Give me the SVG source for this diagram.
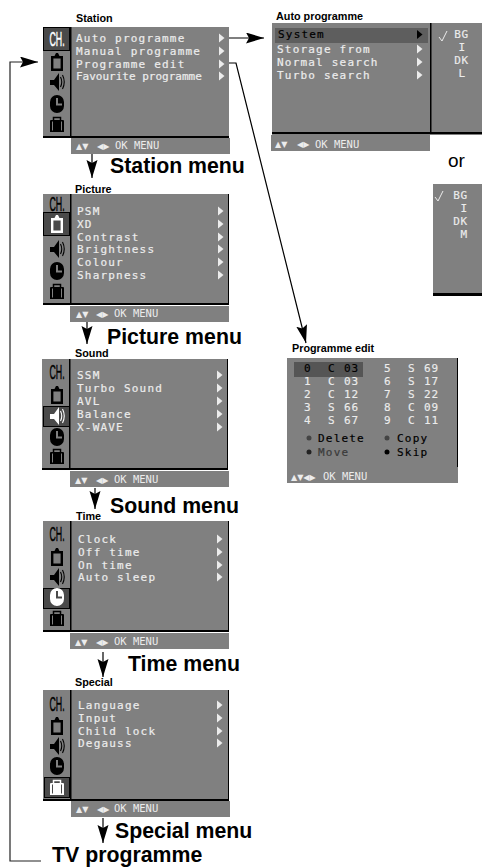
<svg xmlns="http://www.w3.org/2000/svg" width="482" height="867" viewBox="0 0 482 867">
<style>
.bg{fill:#808080}
.k{fill:#000}
.cell{fill:#4a4a4a;stroke:#000;stroke-width:1}
.m{font:11px "DejaVu Sans Mono","Liberation Mono",monospace;letter-spacing:1.2px;fill:#ececec;stroke:#ececec;stroke-width:.2}
.m.d{fill:#000;stroke:#000}
.m.g{fill:#3a3a3a;stroke:#3a3a3a}
.d{fill:#000}
.h{font:bold 10.8px "Liberation Sans",Arial,sans-serif;fill:#000}
.b{font:bold 21.3px "Liberation Sans",Arial,sans-serif;fill:#000}
.f{font:10.5px "DejaVu Sans Mono","Liberation Mono",monospace;fill:#ececec}
.t{font:8px "DejaVu Sans",sans-serif;fill:#ececec}
.c{font:21px "Liberation Sans",Arial,sans-serif;stroke:currentColor;stroke-width:.5;fill:currentColor;text-anchor:middle}
.n{font:11px "DejaVu Sans Mono","Liberation Mono",monospace;letter-spacing:.8px;fill:#ececec;stroke:#ececec;stroke-width:.15}
.n.d{fill:#000;stroke:#000}
.line{fill:none;stroke:#000;stroke-width:1.2}
.sel{color:#fff}
.uns{color:#000}
</style>
<defs>
<marker id="head" markerUnits="userSpaceOnUse" markerWidth="19" markerHeight="12" refX="18" refY="5.5" orient="auto"><path d="M0,0L18,5.5L0,11L3,5.5Z" fill="#000"/></marker>
<path id="tri" d="M0,-4.5L5.5,0L0,4.5Z" fill="#ececec"/>
<g id="panel">
<rect class="bg" width="186" height="109"/>
<rect class="k" y="109" width="186" height="2"/>
<rect class="k" x="27" width="1.5" height="109"/>
</g>
<rect id="foot" class="bg" width="159" height="16"/>
<path id="i-tv" fill="currentColor" fill-rule="evenodd" d="M-6,-6H6V9H-6Z M-3.6,-3.6H3.6V6.6H-3.6Z M-2.5,-6L-1,-9H1L2.5,-6Z"/>
<g id="i-sp" fill="currentColor"><path d="M-7,-2H-3L2,-9V9L-3,3H-7Z"/><path d="M3.5,-5Q6,0 3.5,5M5.5,-7Q9,0 5.5,7" fill="none" stroke="currentColor" stroke-width="1.1"/></g>
<path id="i-cl" fill="currentColor" fill-rule="evenodd" d="M-7,-2A7,7 0 0 1 7,-2V2A7,7 0 0 1 -7,2Z M-1,-6H1V-0.5H5V1.5H-1Z"/>
<g id="i-ca" fill="currentColor"><path fill-rule="evenodd" d="M-7,-3Q-7,-4 -6,-4H6Q7,-4 7,-3V8H-7Z M-5,-2.5H-4V6.5H-5Z M4,-2.5H5V6.5H4Z"/><path d="M-3.5,-4V-6.5H3.5V-4" fill="none" stroke="currentColor" stroke-width="1.5"/></g>
</defs>

<g id="connectors">
<path class="line" d="M224,38H264" marker-end="url(#head)"/>
<path class="line" d="M224,63H236L306,343" marker-end="url(#head)"/>
<path class="line" d="M92,153V178" marker-end="url(#head)"/>
<path class="line" d="M87,322V344" marker-end="url(#head)"/>
<path class="line" d="M95,488V509" marker-end="url(#head)"/>
<path class="line" d="M103,652V677" marker-end="url(#head)"/>
<path class="line" d="M103,818V843" marker-end="url(#head)"/>
<path class="line" d="M41,861H10V62H38" marker-end="url(#head)" style="stroke:#222"/>
</g>

<g id="station" transform="translate(43,27)">
<use href="#panel"/>
<rect class="cell" x="0.5" y="0.5" width="26" height="23"/>
<text class="c sel" transform="translate(14,19) scale(.42,1)">CH.</text>
<use class="uns" href="#i-tv" x="14" y="35"/><use class="uns" href="#i-sp" x="14" y="55"/><use class="uns" href="#i-cl" x="14" y="77"/><use class="uns" href="#i-ca" x="14" y="97"/>
<text class="m" x="33" y="15">Auto programme</text>
<text class="m" x="33" y="28">Manual programme</text>
<text class="m" x="33" y="41">Programme edit</text>
<text class="m" x="33" y="53" textLength="127">Favourite programme</text>
<use href="#tri" x="176" y="11"/><use href="#tri" x="176" y="24"/><use href="#tri" x="176" y="37"/><use href="#tri" x="176" y="49"/>
<use href="#foot" x="28" y="111"/>
<text class="t" x="33" y="122">▲▼<tspan x="54">◀▶</tspan></text><text class="f" x="72" y="122">OK MENU</text>
<text class="h" x="33" y="-5">Station</text>
</g>
<text class="b" x="110" y="173" id="label-station">Station menu</text>

<g id="picture" transform="translate(43,194)">
<use href="#panel"/><rect class="k" x="185" width="1" height="109"/>
<rect class="cell" x="0.5" y="18.5" width="26" height="23"/>
<text class="c uns" transform="translate(14,17) scale(.42,1)">CH.</text>
<use class="sel" href="#i-tv" x="14" y="30"/><use class="uns" href="#i-sp" x="14" y="55"/><use class="uns" href="#i-cl" x="14" y="77"/><use class="uns" href="#i-ca" x="14" y="97"/>
<text class="m" x="34" y="21">PSM</text>
<text class="m" x="34" y="34">XD</text>
<text class="m" x="34" y="47">Contrast</text>
<text class="m" x="34" y="59">Brightness</text>
<text class="m" x="34" y="72">Colour</text>
<text class="m" x="34" y="85">Sharpness</text>
<use href="#tri" x="175" y="17"/><use href="#tri" x="175" y="30"/><use href="#tri" x="175" y="43"/><use href="#tri" x="175" y="55"/><use href="#tri" x="175" y="68"/><use href="#tri" x="175" y="81"/>
<use href="#foot" x="27" y="112"/>
<text class="t" x="33" y="123">▲▼<tspan x="53">◀▶</tspan></text><text class="f" x="71" y="123">OK MENU</text>
<text class="h" x="32" y="-1">Picture</text>
</g>
<text class="b" x="107" y="344" id="label-picture">Picture menu</text>

<g id="sound" transform="translate(42,359)">
<use href="#panel"/><rect class="k" x="185" width="1" height="109"/>
<rect class="cell" x="1.5" y="47.5" width="26" height="20"/>
<text class="c uns" transform="translate(15,20) scale(.42,1)">CH.</text>
<use class="uns" href="#i-tv" x="15" y="36"/><use class="sel" href="#i-sp" x="15" y="57"/><use class="uns" href="#i-cl" x="15" y="78"/><use class="uns" href="#i-ca" x="15" y="97"/>
<text class="m" x="35" y="20">SSM</text>
<text class="m" x="35" y="33">Turbo Sound</text>
<text class="m" x="35" y="46">AVL</text>
<text class="m" x="35" y="59">Balance</text>
<text class="m" x="35" y="72">X-WAVE</text>
<use href="#tri" x="175" y="16"/><use href="#tri" x="175" y="29"/><use href="#tri" x="175" y="42"/><use href="#tri" x="175" y="55"/><use href="#tri" x="175" y="68"/>
<use href="#foot" x="28" y="112"/>
<text class="t" x="33" y="124">▲▼<tspan x="54">◀▶</tspan></text><text class="f" x="72" y="124">OK MENU</text>
<text class="h" x="33" y="-2">Sound</text>
</g>
<text class="b" x="110" y="513" id="label-sound">Sound menu</text>

<g id="time" transform="translate(43,521)">
<use href="#panel"/><rect class="k" x="185" width="1" height="109"/>
<rect class="cell" x="0.5" y="67.5" width="26" height="20"/>
<text class="c uns" transform="translate(14,20) scale(.42,1)">CH.</text>
<use class="uns" href="#i-tv" x="14" y="36"/><use class="uns" href="#i-sp" x="14" y="56"/><use class="sel" href="#i-cl" x="14" y="76"/><use class="uns" href="#i-ca" x="14" y="97"/>
<text class="m" x="35" y="22">Clock</text>
<text class="m" x="35" y="35">Off time</text>
<text class="m" x="35" y="48">On time</text>
<text class="m" x="35" y="60">Auto sleep</text>
<use href="#tri" x="174" y="18"/><use href="#tri" x="174" y="31"/><use href="#tri" x="174" y="44"/><use href="#tri" x="174" y="56"/>
<use href="#foot" x="27" y="112"/>
<text class="t" x="32" y="124">▲▼<tspan x="53">◀▶</tspan></text><text class="f" x="71" y="124">OK MENU</text>
<text class="h" x="33" y="-1">Time</text>
</g>
<text class="b" x="128" y="671" id="label-time">Time menu</text>

<g id="special" transform="translate(43,690)">
<use href="#panel"/><rect class="k" x="185" width="1" height="109"/>
<rect class="cell" x="1.5" y="87.5" width="25" height="20"/>
<text class="c uns" transform="translate(14,21) scale(.42,1)">CH.</text>
<use class="uns" href="#i-tv" x="14" y="36"/><use class="uns" href="#i-sp" x="14" y="56"/><use class="uns" href="#i-cl" x="14" y="76"/><use class="sel" href="#i-ca" x="14" y="97"/>
<text class="m" x="35" y="19">Language</text>
<text class="m" x="35" y="32">Input</text>
<text class="m" x="35" y="45">Child lock</text>
<text class="m" x="35" y="57">Degauss</text>
<use href="#tri" x="174" y="15"/><use href="#tri" x="174" y="28"/><use href="#tri" x="174" y="41"/><use href="#tri" x="174" y="53"/>
<use href="#foot" x="28" y="111"/>
<text class="t" x="33" y="122">▲▼<tspan x="54">◀▶</tspan></text><text class="f" x="71" y="122">OK MENU</text>
<text class="h" x="32" y="-4">Special</text>
</g>
<text class="b" x="115" y="838" id="label-special">Special menu</text>

<text class="b" x="52" y="862" id="tv-programme">TV programme</text>

<g id="auto-programme">
<text class="h" x="276" y="20">Auto programme</text>
<rect class="bg" x="272" y="23" width="210" height="109"/>
<rect class="k" x="272" y="132" width="210" height="2.5"/>
<rect class="k" x="430" y="23" width="1.5" height="110"/>
<rect x="275" y="28" width="153" height="15" fill="#5e5e5e"/>
<text class="m d" x="278" y="38">System</text>
<text class="m" x="277" y="53">Storage from</text>
<text class="m" x="277" y="66">Normal search</text>
<text class="m" x="277" y="79">Turbo search</text>
<path class="k" d="M417,30L422.5,34.5L417,39Z"/>
<use href="#tri" x="417" y="49"/><use href="#tri" x="417" y="62"/><use href="#tri" x="417" y="75"/>
<path d="M439,37L442,41L447,31" fill="none" stroke="#ececec"/>
<text class="n" x="469" y="38" text-anchor="end">BG</text>
<text class="n" x="466" y="51" text-anchor="end">I</text>
<text class="n" x="469" y="64" text-anchor="end">DK</text>
<text class="n" x="466" y="77" text-anchor="end">L</text>
<rect class="bg" x="271" y="135" width="159" height="16"/>
<text class="t" x="275" y="147">▲▼<tspan x="297">◀▶</tspan></text><text class="f" x="315" y="148">OK MENU</text>
</g>

<text id="or" x="448" y="167" style="font:19px 'Liberation Sans',Arial,sans-serif">or</text>

<g id="system-alt">
<rect class="bg" x="433" y="184" width="49" height="109"/>
<rect class="k" x="433" y="293" width="49" height="3"/>
<path d="M435,197L438,201L443,191" fill="none" stroke="#ececec"/>
<text class="n" x="468" y="199" text-anchor="end">BG</text>
<text class="n" x="468" y="212" text-anchor="end">I</text>
<text class="n" x="468" y="225" text-anchor="end">DK</text>
<text class="n" x="468" y="238" text-anchor="end">M</text>
</g>

<g id="programme-edit">
<text class="h" x="292" y="352">Programme edit</text>
<rect class="bg" x="287" y="358" width="171" height="125"/>
<rect class="k" x="457" y="358" width="1" height="109"/>
<rect x="294" y="362" width="69" height="15" fill="#555"/>
<text class="n d" x="304" y="372">0</text><text class="n d" x="328" y="372">C</text><text class="n d" x="344" y="372">03</text>
<text class="n" x="304" y="385">1</text><text class="n" x="328" y="385">C</text><text class="n" x="344" y="385">03</text>
<text class="n" x="304" y="398">2</text><text class="n" x="328" y="398">C</text><text class="n" x="344" y="398">12</text>
<text class="n" x="304" y="411">3</text><text class="n" x="328" y="411">S</text><text class="n" x="344" y="411">66</text>
<text class="n" x="304" y="424">4</text><text class="n" x="328" y="424">S</text><text class="n" x="344" y="424">67</text>
<text class="n" x="384" y="372">5</text><text class="n" x="408" y="372">S</text><text class="n" x="424" y="372">69</text>
<text class="n" x="384" y="385">6</text><text class="n" x="408" y="385">S</text><text class="n" x="424" y="385">17</text>
<text class="n" x="384" y="398">7</text><text class="n" x="408" y="398">S</text><text class="n" x="424" y="398">22</text>
<text class="n" x="384" y="411">8</text><text class="n" x="408" y="411">C</text><text class="n" x="424" y="411">09</text>
<text class="n" x="384" y="424">9</text><text class="n" x="408" y="424">C</text><text class="n" x="424" y="424">11</text>
<circle cx="309" cy="438" r="2.5" fill="#444"/><text class="m d" x="318" y="442">Delete</text>
<circle cx="387" cy="438" r="2.5" fill="#444"/><text class="m d" x="397" y="442">Copy</text>
<circle cx="309" cy="452" r="2.5" fill="#222"/><text class="m g" x="318" y="456">Move</text>
<circle cx="387" cy="452" r="2.5" fill="#000"/><text class="m d" x="397" y="456">Skip</text>
<text class="t" x="291" y="480">▲▼◀▶</text><text class="f" x="323" y="480">OK MENU</text>
</g>
</svg>
